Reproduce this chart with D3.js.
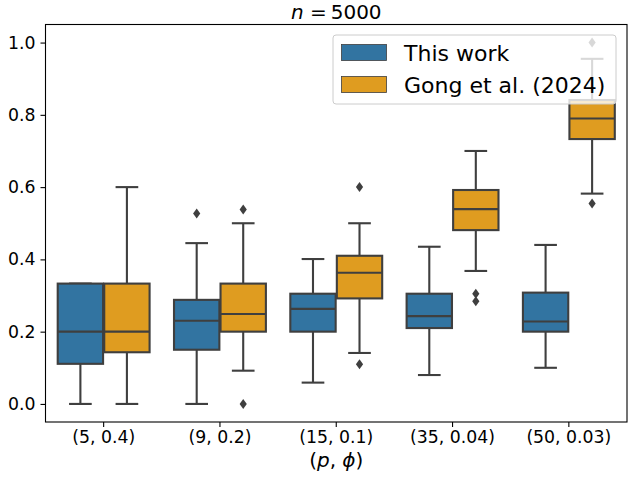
<!DOCTYPE html>
<html>
<head>
<meta charset="utf-8">
<script src="https://cdn.jsdelivr.net/npm/d3@7"></script>
<style>
  body { margin: 0; background: #fff; }
  text { font-family: "DejaVu Sans", sans-serif; }
</style>
</head>
<body>
<script>
// categories on the x axis
var categories = ["(5, 0.4)", "(9, 0.2)", "(15, 0.1)", "(35, 0.04)", "(50, 0.03)"];
var seriesNames = ["This work", "Gong et al. (2024)"];

// This work: box stats per category
var oursLow = [0.0, 0.0, 0.059, 0.080, 0.100];
var oursQ1 = [0.111, 0.150, 0.200, 0.210, 0.200];
var oursMed = [0.200, 0.230, 0.263, 0.243, 0.228];
var oursQ3 = [0.333, 0.288, 0.305, 0.305, 0.308];
var oursHigh = [0.333, 0.445, 0.401, 0.435, 0.440];
var oursOut = [[], [0.527], [], [], []];

// Gong et al. (2024)
var gongLow = [0.0, 0.092, 0.141, 0.368, 0.582];
var gongQ1 = [0.143, 0.200, 0.292, 0.481, 0.733];
var gongMed = [0.200, 0.249, 0.363, 0.539, 0.790];
var gongQ3 = [0.333, 0.333, 0.410, 0.592, 0.841];
var gongHigh = [0.600, 0.500, 0.500, 0.700, 0.955];
var gongOut = [[], [0.0, 0.538], [0.6, 0.110], [0.305, 0.284], [1.0, 0.555]];

var yTicks = [0.0, 0.2, 0.4, 0.6, 0.8, 1.0];
var colors = ["#3274a1", "#df9c20"];
var lineCol = "#3f3f3f";
var lw = 2.1;

var width = 640, height = 480;
var margin = {top: 24.5, right: 13, bottom: 58, left: 45.5};
var w = width - margin.left - margin.right;
var h = height - margin.top - margin.bottom;

var svg = d3.select("body").append("svg")
  .attr("width", width)
  .attr("height", height);

var g = svg.append("g")
  .attr("transform", "translate(" + margin.left + "," + margin.top + ")");

var x = d3.scaleBand().domain(categories).range([0, w]).padding(0);
var y = d3.scaleLinear().domain([-0.05, 1.05]).range([h, 0]);

var series = [
  {low: oursLow, q1: oursQ1, med: oursMed, q3: oursQ3, high: oursHigh, out: oursOut},
  {low: gongLow, q1: gongQ1, med: gongMed, q3: gongQ3, high: gongHigh, out: gongOut}
];

var bw = x.bandwidth();
var boxW = bw * 0.39;
var capW = boxW * 0.5;

series.map(function (s, si) {
  categories.map(function (cat, i) {
    var cx = x(cat) + bw / 2 + (si === 0 ? -0.2 : 0.2) * bw;
    var grp = g.append("g");
    // whiskers
    grp.append("line")
      .attr("x1", cx).attr("x2", cx)
      .attr("y1", y(s.q1[i])).attr("y2", y(s.low[i]))
      .attr("stroke", lineCol).attr("stroke-width", lw);
    grp.append("line")
      .attr("x1", cx).attr("x2", cx)
      .attr("y1", y(s.q3[i])).attr("y2", y(s.high[i]))
      .attr("stroke", lineCol).attr("stroke-width", lw);
    // caps
    [s.low[i], s.high[i]].map(function (v) {
      grp.append("line")
        .attr("x1", cx - capW / 2).attr("x2", cx + capW / 2)
        .attr("y1", y(v)).attr("y2", y(v))
        .attr("stroke", lineCol).attr("stroke-width", lw);
    });
    // box
    grp.append("rect")
      .attr("x", cx - boxW / 2)
      .attr("y", y(s.q3[i]))
      .attr("width", boxW)
      .attr("height", y(s.q1[i]) - y(s.q3[i]))
      .attr("fill", colors[si])
      .attr("stroke", lineCol).attr("stroke-width", lw);
    // median
    grp.append("line")
      .attr("x1", cx - boxW / 2).attr("x2", cx + boxW / 2)
      .attr("y1", y(s.med[i])).attr("y2", y(s.med[i]))
      .attr("stroke", lineCol).attr("stroke-width", lw);
    // fliers
    grp.selectAll("path.flier")
      .data(s.out[i])
      .enter()
      .append("path")
      .attr("class", "flier")
      .attr("d", function (d) {
        var py = y(d);
        return "M" + cx + "," + (py - 5) + "L" + (cx + 3.6) + "," + py +
          "L" + cx + "," + (py + 5) + "L" + (cx - 3.6) + "," + py + "Z";
      })
      .attr("fill", lineCol);
  });
});

// axes
var xAxis = g.append("g")
  .attr("transform", "translate(0," + h + ")")
  .call(d3.axisBottom(x).tickSizeOuter(0).tickSize(5).tickPadding(4));
var yAxis = g.append("g")
  .call(d3.axisLeft(y).tickValues(yTicks).tickFormat(d3.format(".1f")).tickSizeOuter(0).tickSize(5).tickPadding(5));
[xAxis, yAxis].map(function (a) {
  a.select(".domain").remove();
  a.selectAll("line").attr("stroke", "#000").attr("stroke-width", 1.1);
  a.selectAll("text").attr("fill", "#000")
    .style("font-family", "DejaVu Sans").style("font-size", "17.3px");
});

// frame
g.append("rect")
  .attr("x", 0).attr("y", 0)
  .attr("width", w).attr("height", h)
  .attr("fill", "none")
  .attr("stroke", "#000").attr("stroke-width", 1.1);

// title
var title = svg.append("text")
  .attr("x", margin.left + w / 2)
  .attr("y", 19)
  .attr("text-anchor", "middle")
  .style("font-size", "20px");
title.append("tspan").attr("font-style", "italic").text("n");
title.append("tspan").text(" =\u20095000");

// x label
var xl = svg.append("text")
  .attr("x", margin.left + w / 2)
  .attr("y", 467)
  .attr("text-anchor", "middle")
  .style("font-size", "20px");
xl.append("tspan").text("(");
xl.append("tspan").attr("font-style", "italic").text("p");
xl.append("tspan").text(", ");
xl.append("tspan").attr("font-style", "italic").text("\u03d5");
xl.append("tspan").text(")");

// legend
var leg = svg.append("g").attr("transform", "translate(333,35)");
leg.append("rect")
  .attr("width", 283).attr("height", 69)
  .attr("rx", 3).attr("ry", 3)
  .attr("fill", "#fff").attr("fill-opacity", 0.8)
  .attr("stroke", "#cccccc").attr("stroke-width", 1);
seriesNames.map(function (name, i) {
  leg.append("rect")
    .attr("x", 8.5).attr("y", 9.5 + i * 32)
    .attr("width", 45).attr("height", 16)
    .attr("fill", colors[i])
    .attr("stroke", lineCol).attr("stroke-width", 0.8);
  leg.append("text")
    .attr("x", 71).attr("y", 25.5 + i * 32)
    .style("font-size", "22px")
    .text(name);
});
</script>
</body>
</html>
